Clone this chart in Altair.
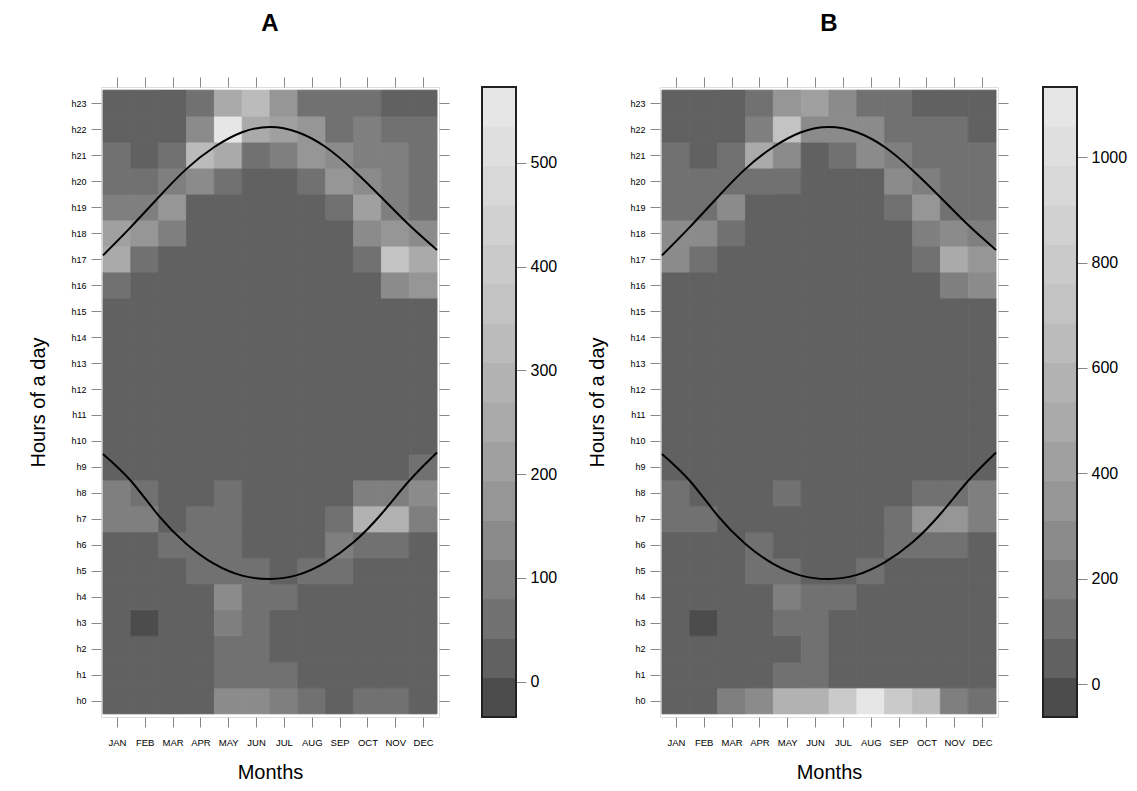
import json
import numpy as np
import pandas as pd
import altair as alt

MONTHS = ["JAN", "FEB", "MAR", "APR", "MAY", "JUN", "JUL", "AUG", "SEP", "OCT", "NOV", "DEC"]
HOUR_INDEX = list(range(24))

# rows h0 .. h23, columns JAN .. DEC
A_VALUES = [
    [22, 20, 18, 24, 142, 138, 104, 66, 30, 58, 62, 27],
    [16, 14, 15, 21, 63, 58, 56, 26, 19, 17, 15, 18],
    [13, 12, 14, 18, 61, 55, 33, 18, 14, 12, 11, 14],
    [10, 0, 12, 17, 102, 64, 36, 19, 13, 11, 9, 12],
    [12, 10, 14, 25, 140, 70, 59, 32, 16, 14, 12, 13],
    [18, 16, 30, 62, 74, 68, 38, 58, 55, 28, 20, 19],
    [36, 34, 57, 66, 64, 30, 24, 38, 97, 72, 60, 40],
    [104, 98, 38, 63, 70, 26, 22, 35, 68, 292, 296, 106],
    [96, 78, 30, 36, 58, 20, 18, 24, 36, 100, 108, 136],
    [38, 32, 26, 24, 22, 16, 15, 18, 25, 34, 38, 60],
    [30, 26, 22, 20, 18, 15, 14, 16, 20, 26, 32, 35],
    [25, 22, 20, 18, 16, 14, 13, 15, 18, 22, 26, 28],
    [24, 21, 19, 17, 15, 13, 12, 14, 17, 21, 25, 27],
    [26, 22, 20, 18, 16, 14, 13, 15, 18, 23, 27, 29],
    [28, 25, 22, 19, 17, 15, 14, 16, 19, 25, 30, 32],
    [34, 30, 25, 21, 18, 16, 15, 17, 21, 28, 36, 38],
    [64, 38, 28, 22, 19, 17, 16, 18, 24, 40, 142, 178],
    [252, 72, 36, 24, 20, 18, 17, 20, 30, 68, 368, 256],
    [214, 176, 98, 34, 22, 19, 18, 22, 40, 138, 180, 134],
    [108, 102, 190, 38, 26, 22, 20, 28, 66, 218, 104, 74],
    [72, 70, 100, 140, 64, 32, 30, 62, 178, 144, 108, 76],
    [68, 40, 66, 328, 248, 60, 96, 176, 138, 112, 110, 72],
    [38, 36, 34, 136, 548, 252, 214, 172, 66, 100, 74, 70],
    [34, 32, 33, 66, 246, 326, 174, 68, 64, 62, 38, 36],
]

B_VALUES = [
    [62, 66, 196, 270, 582, 590, 796, 1088, 790, 646, 204, 128],
    [40, 36, 38, 52, 124, 118, 72, 56, 44, 38, 34, 42],
    [34, 30, 32, 46, 84, 112, 64, 46, 38, 32, 28, 36],
    [30, 0, 30, 44, 130, 122, 70, 44, 34, 28, 26, 30],
    [32, 30, 34, 58, 198, 132, 126, 62, 40, 32, 30, 32],
    [38, 36, 60, 118, 126, 80, 70, 114, 84, 56, 44, 40],
    [60, 58, 78, 120, 86, 54, 48, 76, 130, 124, 116, 72],
    [132, 126, 72, 80, 84, 46, 42, 62, 128, 346, 352, 200],
    [124, 86, 56, 62, 112, 40, 36, 48, 74, 136, 140, 206],
    [74, 66, 52, 46, 44, 32, 30, 34, 48, 64, 76, 86],
    [62, 54, 46, 40, 36, 30, 28, 30, 40, 52, 64, 70],
    [52, 46, 40, 36, 32, 28, 26, 28, 36, 46, 54, 58],
    [50, 44, 38, 34, 30, 26, 24, 27, 34, 44, 52, 56],
    [54, 46, 40, 36, 32, 28, 26, 29, 36, 46, 56, 60],
    [58, 50, 44, 38, 34, 30, 28, 31, 38, 50, 62, 66],
    [68, 60, 50, 42, 36, 32, 30, 34, 42, 58, 74, 80],
    [84, 72, 56, 44, 38, 34, 32, 36, 48, 80, 206, 276],
    [280, 132, 70, 48, 40, 36, 34, 40, 60, 128, 496, 356],
    [272, 268, 136, 62, 44, 38, 36, 44, 82, 210, 278, 202],
    [140, 136, 276, 80, 52, 44, 40, 56, 130, 344, 148, 142],
    [134, 130, 140, 150, 120, 66, 60, 86, 282, 214, 146, 138],
    [126, 82, 130, 502, 280, 70, 120, 276, 208, 140, 142, 130],
    [72, 68, 70, 196, 724, 284, 278, 270, 136, 132, 128, 84],
    [64, 60, 62, 132, 350, 424, 282, 130, 124, 84, 76, 70],
]

# sunrise / sunset curves (in hour-row units), read at month boundaries
CURVE_X = [0.5, 1.5, 2.5, 3.5, 4.5, 5.5, 6.5, 7.5, 8.5, 9.5, 10.5, 11.5, 12.5]
SUNSET = [17.14, 18.23, 19.38, 20.47, 21.31, 21.88, 22.08, 21.88, 21.31, 20.42, 19.38, 18.31, 17.35]
SUNRISE = [9.50, 8.47, 7.13, 6.04, 5.27, 4.82, 4.69, 4.85, 5.33, 6.10, 7.19, 8.47, 9.56]

A_LIMITS = [-34, 573]
B_LIMITS = [-62, 1133]
A_TICKS = [0, 100, 200, 300, 400, 500]
B_TICKS = [0, 200, 400, 600, 800, 1000]
N_LEVELS = 16

FONT = "Liberation Sans"
PLOT_W, PLOT_H = 338, 630
BAR_W = 34


def gray_colors(n, start=0.3, end=0.9, gamma=2.2):
    seq = np.linspace(start ** gamma, end ** gamma, n) ** (1 / gamma)
    out = []
    for v in seq:
        g = int(round(v * 255))
        out.append("#%02x%02x%02x" % (g, g, g))
    return out


GREYS = gray_colors(N_LEVELS)
MONTH_EXPR = json.dumps(MONTHS).replace('"', "'") + "[datum.value - 1]"


def panel(title, values, limits, ticks, bar_gap):
    rows = []
    for h, row in enumerate(values):
        for m, v in enumerate(row):
            rows.append(dict(month=MONTHS[m], x0=m + 0.5, x1=m + 1.5,
                             hour=h, y0=h - 0.5, y1=h + 0.5, value=v))
    df = pd.DataFrame(rows)

    curves = pd.DataFrame(
        [dict(x=x, h=v, curve="sunset") for x, v in zip(CURVE_X, SUNSET)]
        + [dict(x=x, h=v, curve="sunrise") for x, v in zip(CURVE_X, SUNRISE)]
    )

    breaks = np.linspace(limits[0], limits[1], N_LEVELS + 1)
    cscale = alt.Scale(type="threshold", domain=[float(b) for b in breaks[1:-1]], range=GREYS)
    xscale = alt.Scale(domain=[0.43, 12.57], nice=False, zero=False)
    yscale = alt.Scale(domain=[-0.62, 23.62], nice=False, zero=False)

    heat = alt.Chart(df).mark_rect(strokeWidth=0.8).encode(
        x=alt.X("x0:Q", scale=xscale,
                axis=alt.Axis(orient="bottom", values=list(range(1, 13)), labelExpr=MONTH_EXPR,
                              title="Months", tickSize=10, labelPadding=10, labelFontSize=9.5,
                              titleFontSize=20, titleFontWeight="normal", titlePadding=16,
                              grid=False, domain=False)),
        x2="x1:Q",
        y=alt.Y("y0:Q", scale=yscale,
                axis=alt.Axis(orient="left", values=HOUR_INDEX, labelExpr="'h' + datum.value",
                              title="Hours of a day", tickSize=10, labelPadding=5, labelFontSize=9,
                              titleFontSize=20, titleFontWeight="normal", titlePadding=22,
                              grid=False, domain=False)),
        y2="y1:Q",
        color=alt.Color("value:Q", scale=cscale, legend=None),
        stroke=alt.Stroke("value:Q", scale=cscale, legend=None),
    )

    lines = alt.Chart(curves).mark_line(color="black", strokeWidth=2, interpolate="natural", clip=True).encode(
        x=alt.X("x:Q", scale=xscale,
                axis=alt.Axis(orient="top", values=list(range(1, 13)), labels=False, title=None,
                              tickSize=10, grid=False, domain=False)),
        y=alt.Y("h:Q", scale=yscale,
                axis=alt.Axis(orient="right", values=HOUR_INDEX, labels=False, title=None,
                              tickSize=10, grid=False, domain=False)),
        detail="curve:N",
    )

    main = alt.layer(heat, lines).resolve_axis(x="independent", y="independent").resolve_scale(
        stroke="independent"
    ).properties(
        width=PLOT_W, height=PLOT_H,
        title=alt.TitleParams(title, fontSize=24, fontWeight="bold", font=FONT,
                              anchor="middle", offset=41, color="black"),
    )

    bins = pd.DataFrame({"lo": breaks[:-1], "hi": breaks[1:],
                         "mid": (breaks[:-1] + breaks[1:]) / 2})
    ybar = alt.Scale(domain=limits, nice=False, zero=False)
    bar = alt.Chart(bins).mark_rect(strokeWidth=0.8).encode(
        y=alt.Y("lo:Q", scale=ybar,
                axis=alt.Axis(orient="right", values=ticks, title=None, tickSize=10, format="d",
                              labelFontSize=16, labelPadding=4, grid=False, domain=False)),
        y2="hi:Q",
        x=alt.value(0),
        x2=alt.value(BAR_W),
        color=alt.Color("mid:Q", scale=cscale, legend=None),
        stroke=alt.Stroke("mid:Q", scale=cscale, legend=None),
    )
    frame = alt.Chart(bins).mark_rect(fill=None, stroke="#222222", strokeWidth=1.5).encode(
        x=alt.value(0), x2=alt.value(BAR_W),
        y=alt.value(0), y2=alt.value(PLOT_H),
    )
    colorbar = alt.layer(bar, frame).resolve_scale(stroke="independent").properties(
        width=BAR_W, height=PLOT_H
    )

    return alt.hconcat(main, colorbar, spacing=bar_gap).resolve_scale(color="independent", stroke="independent")


chart = alt.hconcat(
    panel("A", A_VALUES, A_LIMITS, A_TICKS, 30),
    panel("B", B_VALUES, B_LIMITS, B_TICKS, 32),
    spacing=29,
).resolve_scale(color="independent", stroke="independent").configure_view(
    stroke="black", strokeWidth=1
).configure_axis(
    labelFont=FONT, titleFont=FONT, labelColor="#222222", titleColor="#222222",
    tickColor="black", tickWidth=1,
).configure(background="white", padding={"left": 20, "top": 3, "right": 0, "bottom": 0})

chart.save("out.html", embed_options={"renderer": "svg", "actions": False})
